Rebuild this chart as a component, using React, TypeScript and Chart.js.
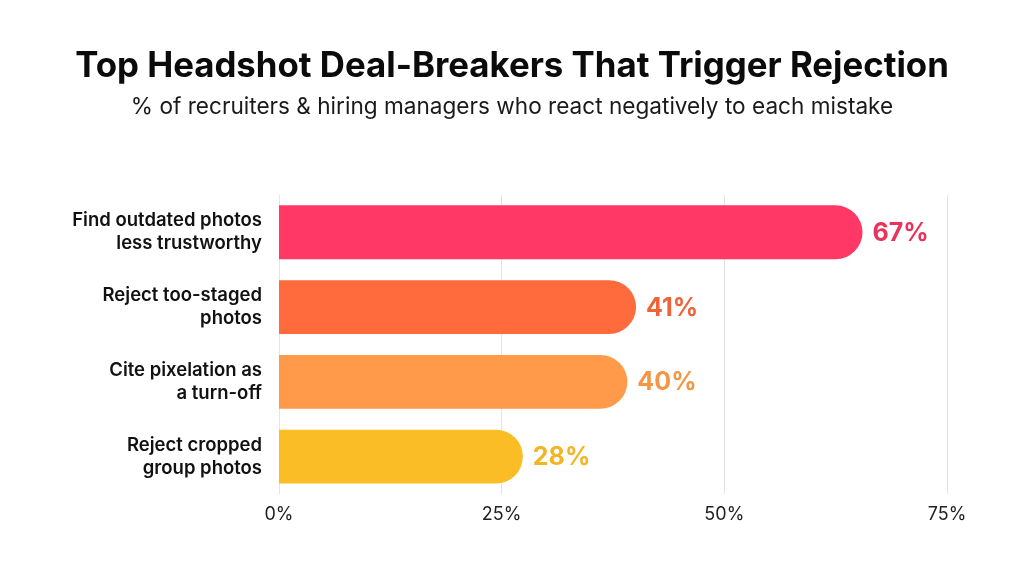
import React, { useEffect, useRef } from "react";
import { Chart, registerables } from "chart.js";

Chart.register(...registerables);

// Chart data
const categories: string[][] = [
  ["Find outdated photos", "less trustworthy"],
  ["Reject too-staged", "photos"],
  ["Cite pixelation as", "a turn-off"],
  ["Reject cropped", "group photos"],
];
const shares: number[] = [67, 41, 40, 28];
const barColors: string[] = ["#FF3866", "#FF6B3D", "#FF9A4B", "#FBBD26"];
const labelColors: string[] = ["#E8345C", "#EF6339", "#F59646", "#F3B524"];
const tickValues: number[] = [0, 25, 50, 75];

const FONT = "Inter, 'Noto Sans', sans-serif";

// Writes the percentage just past the end of each bar
const valueLabels = {
  id: "valueLabels",
  afterDatasetsDraw(chart: any) {
    const meta = chart.getDatasetMeta(0);
    const ctx = chart.ctx;
    ctx.save();
    ctx.font = `700 25px ${FONT}`;
    ctx.textAlign = "left";
    ctx.textBaseline = "middle";
    meta.data.forEach((bar: any, i: number) => {
      ctx.fillStyle = labelColors[i];
      ctx.fillText(`${shares[i]}%`, bar.x + 10, bar.y + 1);
    });
    ctx.restore();
  },
};

export default function App() {
  const canvasRef = useRef<HTMLCanvasElement | null>(null);

  useEffect(() => {
    if (!canvasRef.current) return;
    const chart = new Chart(canvasRef.current, {
      type: "bar",
      data: {
        labels: categories,
        datasets: [
          {
            data: shares,
            backgroundColor: barColors,
            borderRadius: { topLeft: 0, bottomLeft: 0, topRight: 40, bottomRight: 40 },
            borderSkipped: false,
            barPercentage: 0.72,
            categoryPercentage: 1,
            xAxisID: "xb",
          },
        ],
      },
      options: {
        indexAxis: "y",
        animation: false,
        responsive: true,
        maintainAspectRatio: false,
        layout: { padding: 0 },
        plugins: {
          legend: { display: false },
          tooltip: { enabled: false },
          title: {
            display: true,
            text: "Top Headshot Deal-Breakers That Trigger Rejection",
            color: "#0B0B0B",
            font: { family: FONT, size: 34.8, weight: "700" as any, lineHeight: 1.2 },
            padding: { top: 46, bottom: 6 },
          },
          subtitle: {
            display: true,
            text: "% of recruiters & hiring managers who react negatively to each mistake",
            color: "#1A1A1A",
            font: { family: FONT, size: 22.6, weight: "400" as any, lineHeight: 1.2 },
            padding: { top: 0, bottom: 74 },
          },
        },
        scales: {
          xb: {
            type: "linear",
            display: false,
            min: 0,
            max: 76.7,
          },
          x: {
            type: "linear",
            position: "bottom",
            min: 0,
            max: 75,
            afterBuildTicks: (scale: any) => {
              scale.ticks = tickValues.map((v) => ({ value: v }));
            },
            afterFit: (scale: any) => {
              scale.height = 77;
            },
            grid: { color: "#E4E4E4", lineWidth: 1, drawTicks: false },
            border: { display: false },
            ticks: {
              padding: 10,
              color: "#1F1F1F",
              font: { family: FONT, size: 18, weight: "400" as any },
              callback: (v: any) => `${v}%`,
            },
          },
          y: {
            afterFit: (scale: any) => {
              scale.width = 279;
            },
            grid: { display: false, drawTicks: false },
            border: { display: false },
            ticks: {
              padding: 17,
              color: "#111111",
              font: { family: FONT, size: 18.5, weight: "600" as any, lineHeight: 1.25 },
            },
          },
          // empty right-hand gutter so the plot ends at 75%
          gutter: {
            type: "category",
            position: "right",
            afterFit: (scale: any) => {
              scale.width = 77;
            },
            grid: { display: false, drawTicks: false },
            border: { display: false },
            ticks: { display: false },
          },
        },
      },
      plugins: [valueLabels],
    });
    return () => chart.destroy();
  }, []);

  return (
    <div
      style={{
        position: "fixed",
        left: 0,
        top: 0,
        width: 1024,
        height: 571,
        background: "#FFFFFF",
      }}
    >
      <canvas ref={canvasRef} />
    </div>
  );
}
